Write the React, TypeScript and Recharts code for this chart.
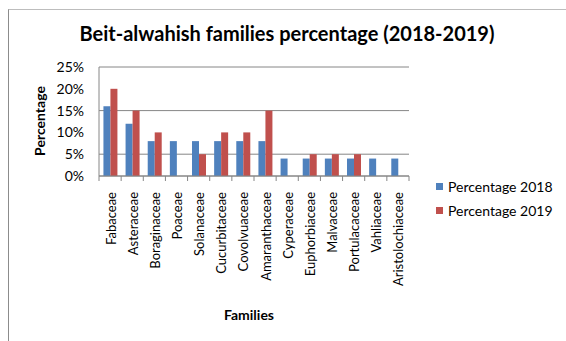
import { Bar, BarChart, CartesianGrid, XAxis, YAxis } from "recharts";

const families = [
  "Fabaceae",
  "Asteraceae",
  "Boraginaceae",
  "Poaceae",
  "Solanaceae",
  "Cucurbitaceae",
  "Covolvuaceae",
  "Amaranthaceae",
  "Cyperaceae",
  "Euphorbiaceae",
  "Malvaceae",
  "Portulacaceae",
  "Vahliaceae",
  "Aristolochiaceae",
];

const pct2018 = [16, 12, 8, 8, 8, 8, 8, 8, 4, 4, 4, 4, 4, 4];
const pct2019 = [20, 15, 10, 0, 5, 10, 10, 15, 0, 5, 5, 5, 0, 0];
const yTicks = [0, 5, 10, 15, 20, 25];

const data = families.map((name, i) => ({
  name,
  p2018: pct2018[i],
  p2019: pct2019[i],
}));

const FONT = "Lato, 'Open Sans', sans-serif";
const BLUE = "#4f81bd";
const RED = "#c0504d";
const GREY = "#868686";

const W = 566;
const H = 341;
const margin = { top: 67, right: 157, left: 49, bottom: 55 };
const Y_AXIS_W = 50;
const PLOT_W = W - margin.left - margin.right - Y_AXIS_W;
const BAND = PLOT_W / families.length;

// category ticks sit between the bars, labels read bottom-up
const FamilyTick = (props: any) => {
  const { x, y, payload, index } = props;
  const half = BAND / 2;
  return (
    <g>
      <line x1={x - half} x2={x - half} y1={y} y2={y + 5} stroke={GREY} />
      {index === families.length - 1 && (
        <line x1={x + half} x2={x + half} y1={y} y2={y + 5} stroke={GREY} />
      )}
      <text
        transform={`translate(${x + 1}, ${y + 16}) rotate(-90)`}
        textAnchor="end"
        dy="0.35em"
        fill="#000"
        fontSize={13}
        fontFamily={FONT}
      >
        {payload.value}
      </text>
    </g>
  );
};

const legendItems = [
  { label: "Percentage 2018", color: BLUE },
  { label: "Percentage 2019", color: RED },
];

export default function App() {
  return (
    <div
      style={{
        position: "absolute",
        left: 0,
        top: 0,
        width: W,
        height: H,
        background: "#fff",
        fontFamily: FONT,
      }}
    >
      <div
        style={{
          position: "absolute",
          left: 8,
          top: 9,
          right: 0,
          bottom: 0,
          borderTop: "1px solid #bdbdbd",
          borderLeft: "1px solid #8c8c8c",
        }}
      />
      <div
        style={{
          position: "absolute",
          left: 0,
          width: 574,
          top: 21,
          textAlign: "center",
          fontWeight: 700,
          fontSize: 20,
          color: "#000",
        }}
      >
        Beit-alwahish families percentage (2018-2019)
      </div>
      <div style={{ position: "absolute", left: 0, top: 0 }}>
        <BarChart
          width={W}
          height={H}
          data={data}
          margin={margin}
          barGap={0}
          barCategoryGap="20%"
        >
          <CartesianGrid vertical={false} stroke={GREY} />
          <XAxis
            dataKey="name"
            height={110}
            interval={0}
            tickLine={false}
            tickSize={0}
            tickMargin={0}
            axisLine={{ stroke: GREY }}
            tick={<FamilyTick />}
          />
          <YAxis
            width={Y_AXIS_W}
            domain={[0, 25]}
            ticks={yTicks}
            tickFormatter={(v) => `${v}%`}
            tickLine={false}
            tickSize={0}
            tickMargin={15}
            axisLine={{ stroke: GREY }}
            tick={{ fill: "#000", fontSize: 14, fontFamily: FONT }}
          />
          <Bar dataKey="p2018" fill={BLUE} isAnimationActive={false} />
          <Bar dataKey="p2019" fill={RED} isAnimationActive={false} />
          <text
            transform="translate(40, 121) rotate(-90)"
            textAnchor="middle"
            dy="0.35em"
            fontWeight={700}
            fontSize={14}
            fontFamily={FONT}
            fill="#000"
          >
            Percentage
          </text>
          <text
            x={249}
            y={315}
            textAnchor="middle"
            dy="0.35em"
            fontWeight={700}
            fontSize={14}
            fontFamily={FONT}
            fill="#000"
          >
            Families
          </text>
        </BarChart>
      </div>
      <div style={{ position: "absolute", left: 436, top: 174 }}>
        {legendItems.map((item) => (
          <div
            key={item.label}
            style={{
              display: "flex",
              alignItems: "center",
              height: 24,
              fontSize: 14,
              color: "#000",
            }}
          >
            <span
              style={{
                width: 7,
                height: 7,
                background: item.color,
                marginRight: 5,
              }}
            />
            {item.label}
          </div>
        ))}
      </div>
    </div>
  );
}
